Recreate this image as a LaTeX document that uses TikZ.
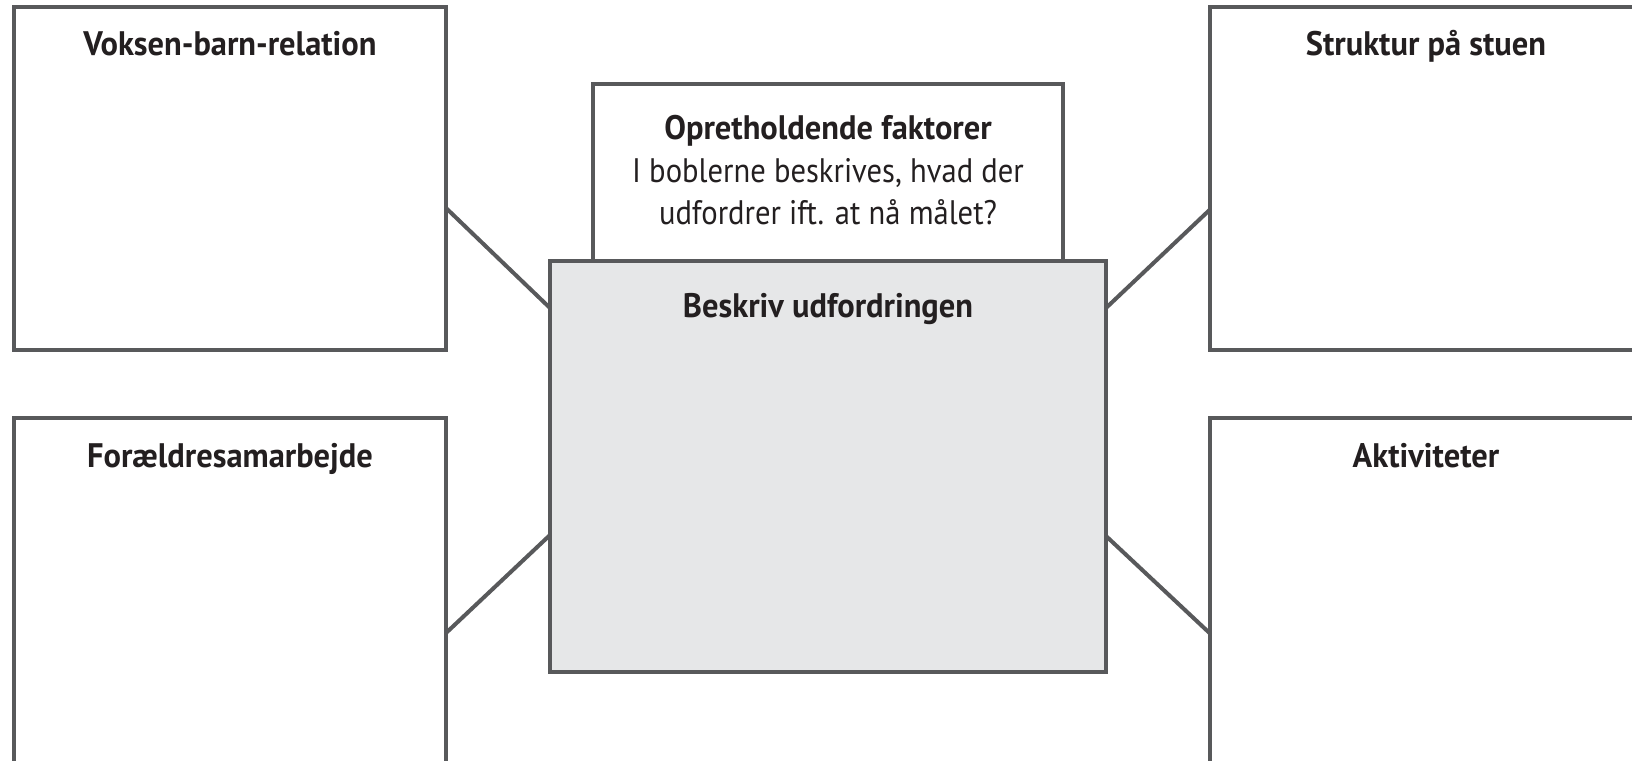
\documentclass[tikz,border=0pt]{standalone}
\usepackage{fontspec}
\setmainfont{PT Sans}
\newfontfamily\titlefont{PT Sans}[FakeStretch=0.955]
\newfontfamily\bodyfont{PT Sans}[FakeStretch=0.9]
\definecolor{edge}{HTML}{58595B}
\definecolor{panel}{HTML}{E6E7E8}
\definecolor{ink}{HTML}{231F20}
\begin{document}
\begin{tikzpicture}[x=1pt,y=-1pt,
  box/.style={draw=edge,line width=4pt,fill=white,rectangle,inner sep=0pt,outer sep=0pt},
  title/.style={anchor=base,inner sep=0pt,text=ink,font=\titlefont\fontsize{34}{40}\selectfont\bfseries},
  plain/.style={anchor=base,inner sep=0pt,text=ink,font=\bodyfont\fontsize{34}{40}\selectfont},
  conn/.style={draw=edge,line width=4pt}]
\useasboundingbox (0,0) rectangle (1632,760);
\fill[white] (0,0) rectangle (1632,760);
% outer boxes
\node[box,minimum width=432.5pt,minimum height=342.5pt] (tl) at (229.75,178.75) {};
\node[box,minimum width=432.5pt,minimum height=357pt] (bl) at (229.75,596.5) {};
\node[box,minimum width=432.5pt,minimum height=342.5pt] (tr) at (1425.75,178.75) {};
\node[box,minimum width=432.5pt,minimum height=357pt] (br) at (1425.75,596.5) {};
% top box (behind centre)
\node[box,minimum width=470pt,minimum height=216pt] (top) at (827.7,192) {};
% centre box
\node[box,fill=panel,minimum width=556pt,minimum height=411pt] (mid) at (828,466.5) {};
% connectors
\draw[conn] ([yshift=-29.25pt]tl.east) -- ([yshift=158.5pt]mid.west);
\draw[conn] ([yshift=-31.25pt]tr.west) -- ([yshift=158.5pt]mid.east);
\draw[conn] ([yshift=-36.5pt]bl.east) -- ([yshift=-68.5pt]mid.west);
\draw[conn] ([yshift=-36.5pt]br.west) -- ([yshift=-69.5pt]mid.east);
% texts
\node[title] (t1) at (230,56) {Voksen-barn-relation};
\node[title] (t2) at (230,467) {Forældresamarbejde};
\node[title] (t3) at (1426,56) {Struktur på stuen};
\node[title] (t4) at (1426,467) {Aktiviteter};
\node[title] (t5) at (828,139) {Opretholdende faktorer};
\node[plain] (t6) at (828,182) {I boblerne beskrives, hvad der};
\node[plain] (t7) at (828,224) {udfordrer ift. at nå målet?};
\node[title] (t8) at (828,317) {Beskriv udfordringen};
\end{tikzpicture}
\end{document}
